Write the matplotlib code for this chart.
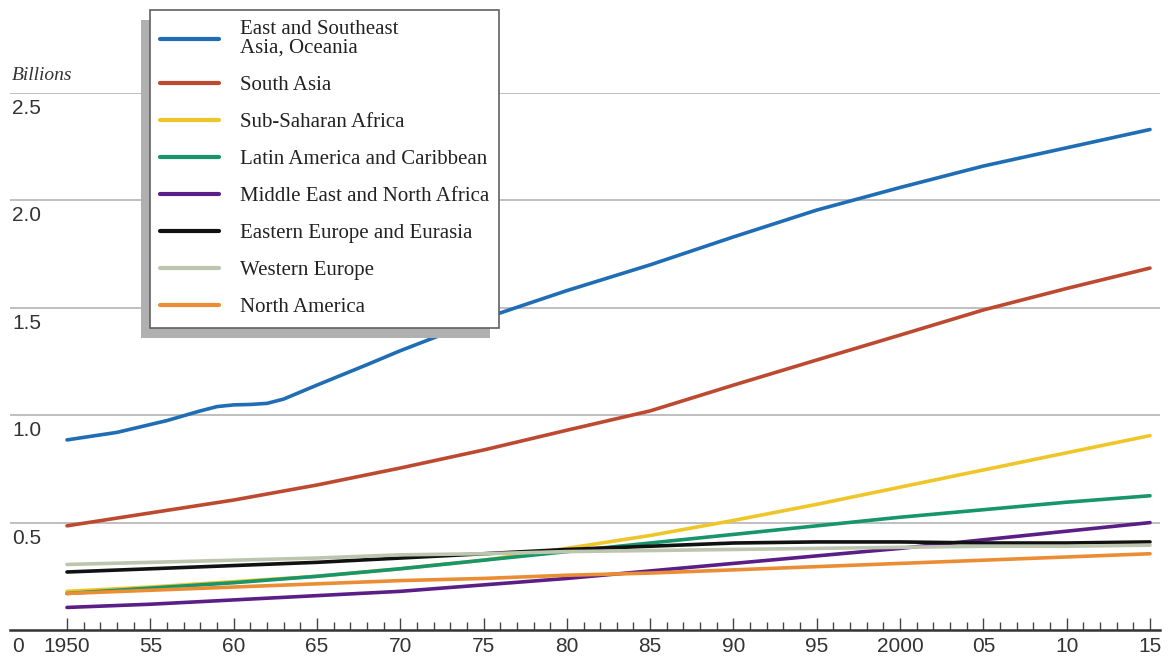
import matplotlib
matplotlib.use("Agg")
import matplotlib.pyplot as plt
import matplotlib.transforms as mtransforms
from matplotlib.patches import Rectangle
from matplotlib.ticker import MultipleLocator

# population by region, billions
years = [1950, 1955, 1960, 1965, 1970, 1975, 1980, 1985, 1990, 1995, 2000, 2005, 2010, 2015]
east_asia_years = [1950, 1953, 1956, 1958, 1959, 1960, 1961, 1962, 1963, 1965, 1968, 1970,
                   1975, 1980, 1985, 1990, 1995, 2000, 2005, 2010, 2015]
east_asia = [0.885, 0.92, 0.975, 1.02, 1.04, 1.048, 1.05, 1.055, 1.075, 1.14, 1.235, 1.30,
             1.45, 1.58, 1.70, 1.83, 1.955, 2.06, 2.16, 2.245, 2.33]
south_asia = [0.485, 0.545, 0.605, 0.675, 0.754, 0.838, 0.93, 1.02, 1.14, 1.257, 1.373, 1.49, 1.59, 1.685]
ssa = [0.18, 0.20, 0.225, 0.25, 0.285, 0.325, 0.38, 0.44, 0.51, 0.585, 0.665, 0.745, 0.825, 0.905]
latam = [0.17, 0.195, 0.22, 0.25, 0.285, 0.325, 0.365, 0.405, 0.445, 0.485, 0.525, 0.56, 0.595, 0.625]
mena = [0.105, 0.12, 0.14, 0.16, 0.18, 0.21, 0.24, 0.275, 0.31, 0.345, 0.38, 0.42, 0.46, 0.50]
east_europe = [0.27, 0.285, 0.30, 0.315, 0.335, 0.355, 0.375, 0.39, 0.405, 0.41, 0.41, 0.405, 0.405, 0.41]
west_europe = [0.305, 0.315, 0.325, 0.335, 0.35, 0.355, 0.365, 0.37, 0.375, 0.38, 0.385, 0.39, 0.39, 0.395]
north_america = [0.17, 0.185, 0.20, 0.215, 0.23, 0.24, 0.255, 0.265, 0.28, 0.295, 0.31, 0.325, 0.34, 0.355]

labels = ["East and Southeast\nAsia, Oceania", "South Asia", "Sub-Saharan Africa",
          "Latin America and Caribbean", "Middle East and North Africa",
          "Eastern Europe and Eurasia", "Western Europe", "North America"]
colors = ["#1f6db4", "#bd4a30", "#efc62a", "#16966a", "#5b1e86", "#111111", "#bcc6ae", "#eb8d34"]

yticks = [0.5, 1.0, 1.5, 2.0, 2.5]
xtick_labels = ["1950", "55", "60", "65", "70", "75", "80", "85", "90", "95", "2000", "05", "10", "15"]

W, H = 1169, 656
fig = plt.figure(figsize=(W / 100, H / 100), dpi=100)
ax = fig.add_axes([10 / W, 26 / H, 1150 / W, 537 / H])

px_per_year = 1083 / 65.0
ax.set_xlim(1950 - 57 / px_per_year, 2015 + 10 / px_per_year)
ax.set_ylim(0, 2.5)

series = [(east_asia_years, east_asia), (years, south_asia), (years, ssa), (years, latam),
          (years, mena), (years, east_europe), (years, west_europe), (years, north_america)]
handles = []
for (xs, ys), c, lab in zip(series, colors, labels):
    ln, = ax.plot(xs, ys, color=c, lw=2.6, solid_capstyle="round", solid_joinstyle="round", label=lab)
    handles.append(ln)

# gridlines and y labels sitting under them
for spine in ["left", "right", "top"]:
    ax.spines[spine].set_visible(False)
ax.spines["bottom"].set_color("#333333")
ax.spines["bottom"].set_linewidth(1.8)
for v in yticks:
    ax.axhline(v, color="#b4b4b4", lw=1.2, zorder=0)
ax.set_yticks([])

sans = "Liberation Sans"
serif = "Liberation Serif"
off = mtransforms.offset_copy(ax.get_yaxis_transform(), fig=fig, x=2, y=-6, units="dots")
for v in yticks:
    ax.text(0, v, f"{v:.1f}", transform=off, ha="left", va="top", fontsize=15,
            family=sans, color="#333333")

ax.set_xticks(years)
ax.set_xticklabels(xtick_labels, family=sans, fontsize=15, color="#333333")
ax.xaxis.set_minor_locator(MultipleLocator(1))
ax.tick_params(axis="x", which="major", direction="in", length=9, width=1, color="#444444", pad=5)
ax.tick_params(axis="x", which="minor", direction="in", length=6, width=1, color="#444444")
# hide minor ticks outside the data range
for t, loc in zip(ax.xaxis.get_minor_ticks(), ax.xaxis.get_minorticklocs()):
    if loc < 1950 or loc > 2015:
        t.set_visible(False)

ax.text(12 / W, 0, "0", transform=mtransforms.offset_copy(
    mtransforms.blended_transform_factory(fig.transFigure, ax.transData), fig=fig, y=-7, units="dots"),
    ha="left", va="top", fontsize=15, family=sans, color="#333333")

fig.text(12 / W, 1 - 75 / H, "Billions", ha="left", va="center", fontsize=14,
         family=serif, style="italic", color="#333333")

leg = ax.legend(handles=handles, loc="upper left", bbox_to_anchor=(150 / W, 1 - 10 / H),
                bbox_transform=fig.transFigure, borderaxespad=0, frameon=True, fancybox=False,
                prop={"family": serif, "size": 15}, handlelength=2.8, handletextpad=1.0,
                borderpad=0.5, labelspacing=0.84, framealpha=1)
leg.get_frame().set_edgecolor("#606060")
leg.get_frame().set_linewidth(1.2)
for lh in leg.get_lines():
    lh.set_linewidth(3)
for txt in leg.get_texts():
    txt.set_color("#222222")
    txt.set_linespacing(0.95)
leg.set_zorder(10)

# drop shadow behind the legend box
fig.canvas.draw()
bb = leg.get_window_extent()
shadow = Rectangle((bb.x0 - 9, bb.y0 - 10), bb.width, bb.height, transform=None,
                   facecolor="#b0b0b0", edgecolor="none", zorder=9)
ax.add_artist(shadow)
shadow.set_clip_on(False)

fig.savefig("out.png", dpi=100)
